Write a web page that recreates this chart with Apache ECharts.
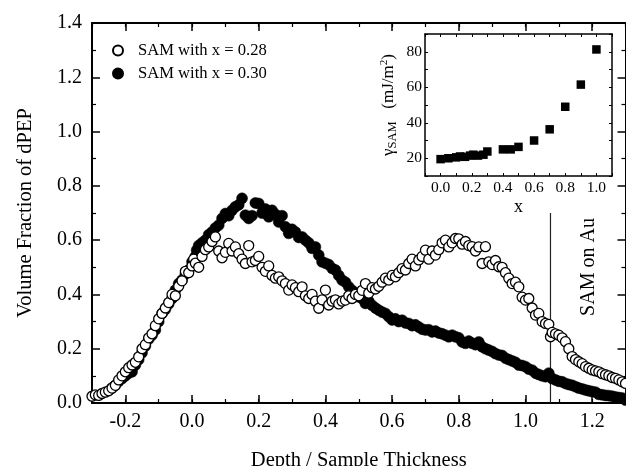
<!DOCTYPE html>
<html><head><meta charset="utf-8">
<script src="https://cdn.jsdelivr.net/npm/echarts@6/dist/echarts.min.js"></script>
<style>html,body{margin:0;padding:0;background:#fff}#c{width:626px;height:466px}</style>
</head><body><div id="c"></div>
<script>
// ---- data ----
const sam028 = [
[-0.30,0.025],[-0.29,0.030],[-0.28,0.028],[-0.27,0.035],[-0.26,0.040],[-0.25,0.045],[-0.24,0.055],[-0.23,0.065],[-0.22,0.085],[-0.21,0.100],
[-0.20,0.115],[-0.19,0.130],[-0.18,0.140],[-0.17,0.150],[-0.16,0.170],[-0.15,0.200],[-0.14,0.215],[-0.13,0.240],[-0.12,0.255],[-0.11,0.285],
[-0.10,0.310],[-0.09,0.330],[-0.08,0.350],[-0.07,0.370],[-0.06,0.400],[-0.05,0.395],[-0.04,0.430],[-0.03,0.450],[-0.02,0.485],[-0.01,0.480],
[0.00,0.505],[0.005,0.530],[0.01,0.515],[0.02,0.500],[0.03,0.540],[0.04,0.565],[0.05,0.575],[0.06,0.595],[0.07,0.612],[0.08,0.560],
[0.09,0.535],[0.10,0.555],[0.11,0.588],[0.12,0.560],[0.13,0.575],[0.14,0.550],[0.15,0.530],[0.16,0.514],[0.17,0.580],[0.18,0.520],
[0.19,0.525],[0.20,0.540],[0.21,0.500],[0.22,0.485],[0.23,0.505],[0.24,0.470],[0.25,0.460],[0.26,0.465],[0.27,0.450],[0.28,0.440],
[0.29,0.416],[0.30,0.435],[0.31,0.425],[0.32,0.410],[0.33,0.428],[0.34,0.395],[0.35,0.385],[0.36,0.400],[0.37,0.375],[0.38,0.349],
[0.39,0.380],[0.40,0.416],[0.41,0.361],[0.42,0.375],[0.43,0.380],[0.44,0.365],[0.45,0.375],[0.46,0.379],[0.47,0.395],[0.48,0.385],
[0.49,0.400],[0.50,0.395],[0.51,0.415],[0.52,0.440],[0.53,0.405],[0.54,0.425],[0.55,0.420],[0.56,0.430],[0.57,0.445],[0.58,0.460],
[0.59,0.453],[0.60,0.470],[0.61,0.465],[0.62,0.480],[0.63,0.495],[0.64,0.490],[0.65,0.514],[0.66,0.530],[0.67,0.505],[0.68,0.527],
[0.69,0.540],[0.70,0.563],[0.71,0.530],[0.72,0.560],[0.73,0.545],[0.74,0.565],[0.75,0.590],[0.76,0.600],[0.77,0.575],[0.78,0.590],
[0.79,0.606],[0.80,0.605],[0.81,0.585],[0.82,0.595],[0.83,0.580],[0.84,0.576],[0.85,0.560],[0.86,0.575],[0.87,0.514],[0.88,0.576],
[0.89,0.520],[0.90,0.510],[0.91,0.525],[0.92,0.502],[0.93,0.500],[0.94,0.480],[0.95,0.460],[0.96,0.440],[0.97,0.445],[0.98,0.428],
[0.99,0.390],[1.00,0.379],[1.01,0.385],[1.02,0.350],[1.03,0.324],[1.04,0.330],[1.05,0.300],[1.06,0.293],[1.07,0.290],[1.075,0.244],
[1.08,0.260],[1.09,0.255],[1.10,0.250],[1.11,0.240],[1.12,0.226],[1.13,0.200],[1.14,0.171],[1.15,0.160],[1.16,0.152],[1.17,0.145],
[1.18,0.134],[1.19,0.128],[1.20,0.122],[1.21,0.118],[1.22,0.115],[1.23,0.108],[1.24,0.104],[1.25,0.100],[1.26,0.094],[1.27,0.091],
[1.28,0.085],[1.29,0.078],[1.30,0.072]
];
const sam030 = [
[-0.24,0.055],[-0.23,0.065],[-0.22,0.080],[-0.21,0.090],[-0.20,0.100],[-0.19,0.110],[-0.18,0.115],[-0.17,0.140],[-0.16,0.160],[-0.15,0.185],
[-0.14,0.210],[-0.13,0.235],[-0.12,0.250],[-0.11,0.269],[-0.10,0.300],[-0.09,0.330],[-0.08,0.345],[-0.07,0.365],[-0.06,0.385],[-0.05,0.416],
[-0.04,0.440],[-0.03,0.453],[-0.02,0.475],[-0.01,0.490],[0.00,0.520],[0.01,0.540],[0.014,0.563],[0.02,0.580],[0.03,0.590],[0.04,0.600],
[0.05,0.620],[0.06,0.630],[0.07,0.645],[0.08,0.655],[0.09,0.680],[0.10,0.698],[0.11,0.690],[0.12,0.710],[0.13,0.723],[0.14,0.730],
[0.15,0.754],[0.16,0.692],[0.17,0.680],[0.18,0.690],[0.19,0.737],[0.20,0.735],[0.21,0.700],[0.22,0.715],[0.23,0.686],[0.24,0.710],
[0.25,0.695],[0.26,0.667],[0.27,0.690],[0.28,0.649],[0.29,0.625],[0.30,0.640],[0.31,0.630],[0.32,0.610],[0.33,0.612],[0.34,0.600],
[0.35,0.590],[0.36,0.570],[0.37,0.575],[0.38,0.545],[0.39,0.520],[0.40,0.515],[0.41,0.510],[0.42,0.496],[0.43,0.490],[0.44,0.470],
[0.45,0.453],[0.46,0.445],[0.47,0.428],[0.48,0.415],[0.49,0.405],[0.50,0.391],[0.51,0.385],[0.52,0.367],[0.53,0.375],[0.54,0.360],
[0.55,0.350],[0.56,0.342],[0.57,0.335],[0.58,0.330],[0.59,0.318],[0.60,0.306],[0.61,0.310],[0.62,0.300],[0.63,0.305],[0.64,0.295],
[0.65,0.293],[0.66,0.285],[0.67,0.288],[0.68,0.280],[0.69,0.272],[0.70,0.269],[0.71,0.270],[0.72,0.262],[0.73,0.265],[0.74,0.258],
[0.75,0.255],[0.76,0.250],[0.77,0.244],[0.78,0.250],[0.79,0.244],[0.80,0.240],[0.81,0.225],[0.82,0.220],[0.83,0.228],[0.84,0.220],
[0.85,0.215],[0.86,0.225],[0.87,0.207],[0.88,0.200],[0.89,0.195],[0.90,0.190],[0.91,0.182],[0.92,0.177],[0.93,0.175],[0.94,0.165],
[0.95,0.160],[0.96,0.155],[0.97,0.150],[0.98,0.140],[0.99,0.138],[1.00,0.134],[1.01,0.125],[1.02,0.121],[1.03,0.110],[1.04,0.105],
[1.05,0.100],[1.06,0.097],[1.07,0.110],[1.08,0.090],[1.09,0.085],[1.10,0.080],[1.11,0.078],[1.12,0.072],[1.13,0.068],[1.14,0.065],
[1.15,0.060],[1.16,0.055],[1.17,0.052],[1.18,0.048],[1.19,0.045],[1.20,0.042],[1.21,0.040],[1.22,0.032],[1.23,0.030],[1.24,0.028],
[1.25,0.027],[1.26,0.025],[1.27,0.022],[1.28,0.020],[1.29,0.018],[1.30,0.011]
];
const insetX = [0.0,0.05,0.10,0.125,0.157,0.19,0.21,0.24,0.275,0.30,0.40,0.45,0.50,0.60,0.70,0.80,0.90,1.00];
const insetGamma = [19.5,20,20.5,21,20.8,21.5,22,21.5,22,23.8,25,25,26.4,30,36.3,49,61.5,81.3];
const samBoundaryX = [1.075,1.075];
const samBoundaryY = [0,0.70];
const xTicks = [-0.2,0.0,0.2,0.4,0.6,0.8,1.0,1.2];
const yTicks = [0.0,0.2,0.4,0.6,0.8,1.0,1.2,1.4];
const insetXTicks = [0.0,0.2,0.4,0.6,0.8,1.0];
const insetYTicks = [20,40,60,80];
const legendNames = ['SAM with x = 0.28','SAM with x = 0.30'];

// ---- chart ----
const FF = 'Liberation Serif';
const fmt1 = v => (Math.abs(v) < 1e-9 ? 0 : v).toFixed(1);
const chart = echarts.init(document.getElementById('c'), null, {renderer:'canvas'});

const mainLine = {show:true, onZero:false, lineStyle:{color:'#000', width:2}};
const noLine = {show:false, onZero:false};
const minorTk = {show:true, inside:true, length:4, lineStyle:{color:'#000', width:1.2}};
const majorTk = {show:true, inside:true, length:8, customValues:xTicks, lineStyle:{color:'#000', width:1.5}};
const mainX = (pos, extra) => Object.assign({
  type:'value', gridIndex:0, position:pos, min:-0.3, max:1.3, interval:0.1,
  splitLine:{show:false}, axisLabel:{show:false}
}, extra);
const mainY = (pos, extra) => Object.assign({
  type:'value', gridIndex:0, position:pos, min:0, max:1.4, interval:0.2,
  splitLine:{show:false}, axisLabel:{show:false},
  axisLine:mainLine,
  axisTick:{show:true, inside:true, length:8, lineStyle:{color:'#000', width:1.5}},
  minorTick:{show:true, splitNumber:2, length:4, lineStyle:{color:'#000', width:1.2}}
}, extra);
const insetLine = {show:true, onZero:false, lineStyle:{color:'#000', width:1.5}};
const insetTk = {show:true, inside:true, length:3, lineStyle:{color:'#000', width:1}};

chart.setOption({
  animation:false,
  backgroundColor:'#fff',
  grid:[
    {left:92, top:23, width:533.5, height:380, containLabel:false, outerBoundsMode:'none'},
    {left:425, top:34, width:187, height:142, containLabel:false, outerBoundsMode:'none'}
  ],
  legend:{
    data:legendNames, orient:'vertical', left:107, top:37, itemGap:6,
    itemWidth:10, itemHeight:10,
    textStyle:{fontFamily:FF, fontSize:16.6, color:'#000', padding:[0,0,0,10]},
    selectedMode:false
  },
  xAxis:[
    mainX('bottom', {axisLine:mainLine, axisTick:minorTk,
      axisLabel:{show:true, customValues:xTicks, formatter:fmt1, fontFamily:FF, fontSize:20, color:'#000', margin:9},
      name:'Depth / Sample Thickness', nameLocation:'middle', nameGap:47,
      nameTextStyle:{fontFamily:FF, fontSize:20.5, color:'#000'}}),
    mainX('bottom', {axisLine:noLine, axisTick:majorTk}),
    mainX('top', {axisLine:mainLine, axisTick:minorTk}),
    mainX('top', {axisLine:noLine, axisTick:majorTk}),
    {type:'value', gridIndex:1, position:'bottom', min:-0.1, max:1.1, interval:0.1,
      splitLine:{show:false}, axisLine:insetLine, axisTick:insetTk,
      axisLabel:{show:true, customValues:insetXTicks, formatter:fmt1, fontFamily:FF, fontSize:15.5, color:'#000', margin:4},
      name:'x', nameLocation:'middle', nameGap:22, nameTextStyle:{fontFamily:FF, fontSize:18, color:'#000'}},
    {type:'value', gridIndex:1, position:'top', min:-0.1, max:1.1, interval:0.1,
      splitLine:{show:false}, axisLine:insetLine, axisTick:insetTk, axisLabel:{show:false}}
  ],
  yAxis:[
    mainY('left', {axisLabel:{show:true, customValues:yTicks, formatter:fmt1, fontFamily:FF, fontSize:20, color:'#000', margin:10},
      name:'Volume Fraction of dPEP', nameLocation:'middle', nameGap:56, nameRotate:90,
      nameTextStyle:{fontFamily:FF, fontSize:20.5, color:'#000'}}),
    mainY('right', {}),
    {type:'value', gridIndex:1, position:'left', min:10, max:90, interval:10,
      splitLine:{show:false}, axisLine:insetLine, axisTick:insetTk,
      axisLabel:{show:true, customValues:insetYTicks, fontFamily:FF, fontSize:15.5, color:'#000', margin:3},
      name:'{g|γ}{s|SAM}{g|   (mJ/m}{p|2}{g|)}', nameLocation:'middle', nameGap:26, nameRotate:90,
      nameTextStyle:{fontFamily:FF, fontSize:17, color:'#000',
        rich:{
          g:{fontFamily:FF, fontSize:17, color:'#000', lineHeight:20, verticalAlign:'middle'},
          s:{fontFamily:FF, fontSize:12.5, color:'#000', lineHeight:20, verticalAlign:'bottom'},
          p:{fontFamily:FF, fontSize:11, color:'#000', lineHeight:20, verticalAlign:'top'}
        }}},
    {type:'value', gridIndex:1, position:'right', min:10, max:90, interval:10,
      splitLine:{show:false}, axisLine:insetLine, axisTick:insetTk, axisLabel:{show:false}}
  ],
  series:[
    {name:legendNames[1], type:'scatter', xAxisIndex:0, yAxisIndex:0, data:sam030,
      symbol:'circle', symbolSize:11, itemStyle:{color:'#000', borderColor:'#000', borderWidth:0.5, opacity:1}, z:3},
    {name:legendNames[0], type:'scatter', xAxisIndex:0, yAxisIndex:0, data:sam028,
      symbol:'circle', symbolSize:10, itemStyle:{color:'#fff', borderColor:'#000', borderWidth:1.3, opacity:1}, z:4},
    {name:'boundary', type:'line', xAxisIndex:0, yAxisIndex:0,
      data:samBoundaryX.map((x,i)=>[x,samBoundaryY[i]]), showSymbol:false, symbol:'none',
      lineStyle:{color:'#222', width:1.2}, silent:true, z:2},
    {name:'inset', type:'scatter', xAxisIndex:4, yAxisIndex:2,
      data:insetX.map((x,i)=>[x,insetGamma[i]]), symbol:'rect', symbolSize:8.5,
      itemStyle:{color:'#000', opacity:1}, z:3}
  ],
  graphic:[
    {type:'text', x:589, y:267, rotation:Math.PI/2,
      style:{text:'SAM on Au', fontFamily:FF, fontSize:20, fill:'#000', textAlign:'center', textVerticalAlign:'middle'}}
  ]
});
</script></body></html>
